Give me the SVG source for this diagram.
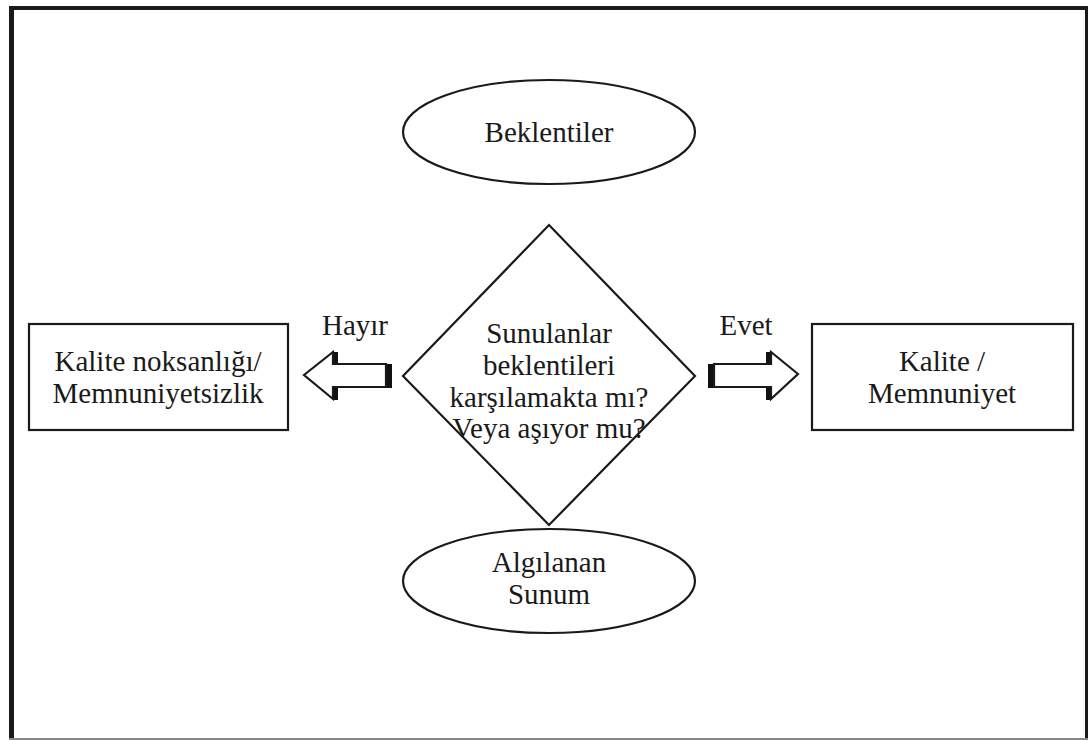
<svg xmlns="http://www.w3.org/2000/svg" width="1088" height="740" viewBox="0 0 1088 740">
<style>
.shape{fill:#fff;stroke:#1a1a1a;stroke-width:2.2}
text{font-family:'Liberation Serif','Times New Roman',serif;font-size:29px;fill:#1a1a1a;text-anchor:middle}
.blk{fill:#111}
</style>
<rect width="1088" height="740" fill="#fff"/>
<g id="frame">
<rect x="9" y="7" width="5" height="733" fill="#1a1a1a"/>
<rect x="9" y="6" width="1079" height="4" fill="#1a1a1a"/>
<rect x="1085" y="6" width="3" height="734" fill="#1a1a1a"/>
<rect x="9" y="738" width="1079" height="2" fill="#888"/>
</g>
<g id="beklentiler">
<ellipse class="shape" cx="549" cy="132" rx="146" ry="52"/>
<text x="549" y="142">Beklentiler</text>
</g>
<g id="decision">
<polygon class="shape" points="549,225 695,376 549,525 403,376"/>
<text x="549" y="343">Sunulanlar</text>
<text x="549" y="375">beklentileri</text>
<text x="549" y="407">karşılamakta mı?</text>
<text x="549" y="438">Veya aşıyor mu?</text>
</g>
<g id="algilanan">
<ellipse class="shape" cx="549" cy="581" rx="146" ry="52"/>
<text x="549" y="572">Algılanan</text>
<text x="549" y="604">Sunum</text>
</g>
<g id="kalite-noksan">
<rect class="shape" x="29" y="324" width="259" height="106"/>
<text x="158" y="371">Kalite noksanlığı/</text>
<text x="158" y="403">Memnuniyetsizlik</text>
</g>
<g id="kalite-memnuniyet">
<rect class="shape" x="812" y="324" width="261" height="106"/>
<text x="942" y="371">Kalite /</text>
<text x="942" y="403">Memnuniyet</text>
</g>
<g id="connectors">
<g id="arrow-hayir">
<rect class="blk" x="333" y="352" width="5" height="12"/>
<rect class="blk" x="333" y="387" width="5" height="13"/>
<rect class="blk" x="386" y="364" width="6" height="24"/>
<polygon class="shape" stroke-width="1.6" points="304,375 333,352 333,364 386,364 386,387 333,387 333,399"/>
<text x="355" y="335">Hayır</text>
</g>
<g id="arrow-evet">
<rect class="blk" x="766" y="352" width="5" height="12"/>
<rect class="blk" x="766" y="387" width="5" height="13"/>
<rect class="blk" x="708" y="364" width="6" height="24"/>
<polygon class="shape" stroke-width="1.6" points="798,374 771,352 771,364 714,364 714,387 771,387 771,399"/>
<text x="746" y="335">Evet</text>
</g>
</g>
</svg>
